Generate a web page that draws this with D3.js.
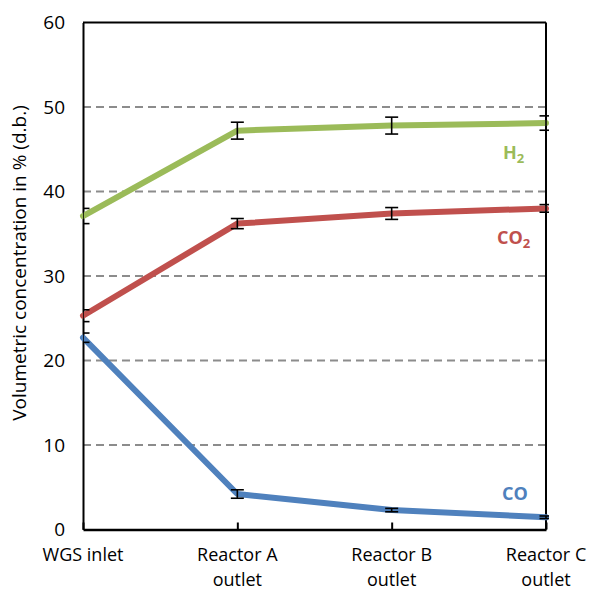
<!DOCTYPE html>
<html>
<head>
<meta charset="utf-8">
<script src="https://cdn.jsdelivr.net/npm/d3@7"></script>
<style>
  html, body { margin: 0; padding: 0; background: #fff; }
  svg { display: block; font-family: "Open Sans", "Liberation Sans", sans-serif; }
</style>
</head>
<body>
<svg id="chart" width="591" height="591"></svg>
<script>
// Sampling points along the water-gas-shift train
const categories = ["WGS inlet", "Reactor A\noutlet", "Reactor B\noutlet", "Reactor C\noutlet"];

// Dry-basis volumetric concentrations (%)
const h2Values  = [37.1, 47.2, 47.8, 48.1];
const co2Values = [25.3, 36.2, 37.4, 38.0];
const coValues  = [22.7, 4.2, 2.3, 1.45];

// Measurement spread (± %)
const h2Err  = [0.9, 1.0, 1.0, 0.85];
const co2Err = [0.7, 0.6, 0.7, 0.45];
const coErr  = [0.55, 0.5, 0.2, 0.15];

const yTicks = [0, 10, 20, 30, 40, 50, 60];

const series = [
  { name: "H", sub: "2", values: h2Values,  err: h2Err,  color: "#9BBB59", label: [503, 152] },
  { name: "CO", sub: "2", values: co2Values, err: co2Err, color: "#C0504D", label: [497, 237] },
  { name: "CO", sub: "",  values: coValues,  err: coErr,  color: "#4F81BD", label: [502, 493] }
];

const svg = d3.select("#chart");
const plot = { left: 83, right: 546, top: 22.5, bottom: 529.5 };

const x = d3.scalePoint().domain(categories).range([plot.left, plot.right]).padding(0);
const y = d3.scaleLinear().domain([0, 60]).range([plot.bottom, plot.top]);

// Dashed horizontal gridlines
svg.append("g")
  .selectAll("line")
  .data(yTicks.filter(t => t > 0 && t < 60))
  .join("line")
  .attr("x1", plot.left).attr("x2", plot.right)
  .attr("y1", d => y(d)).attr("y2", d => y(d))
  .attr("stroke", "#8c8c8c").attr("stroke-width", 2)
  .attr("stroke-dasharray", "8,5");

// Frame: top and right borders
svg.append("line")
  .attr("x1", plot.left).attr("x2", plot.right)
  .attr("y1", plot.top).attr("y2", plot.top)
  .attr("stroke", "#000").attr("stroke-width", 2);
svg.append("line")
  .attr("x1", plot.right).attr("x2", plot.right)
  .attr("y1", plot.top).attr("y2", plot.bottom)
  .attr("stroke", "#000").attr("stroke-width", 2);

// Y axis
const yAxis = svg.append("g")
  .attr("transform", `translate(${plot.left},0)`)
  .call(d3.axisLeft(y).tickValues(yTicks).tickSize(0).tickPadding(18).tickFormat(d3.format("d")));
yAxis.select(".domain").attr("stroke", "#000").attr("stroke-width", 2);
yAxis.selectAll("text")
  .attr("font-size", 19).attr("fill", "#000")
  .attr("font-family", "'Open Sans', sans-serif");

// X axis
const xAxis = svg.append("g")
  .attr("transform", `translate(0,${plot.bottom})`)
  .call(d3.axisBottom(x).tickSizeInner(-7).tickSizeOuter(0).tickFormat(""));
xAxis.select(".domain").attr("stroke", "#000").attr("stroke-width", 2.5);
xAxis.selectAll(".tick line").attr("stroke", "#000").attr("stroke-width", 2);

// Category labels, one text element per line
const labelLines = categories.flatMap(c =>
  c.split("\n").map((line, i) => ({ cat: c, line, i })));
svg.append("g")
  .selectAll("text")
  .data(labelLines)
  .join("text")
  .attr("text-anchor", "middle")
  .attr("font-size", 18)
  .attr("fill", "#000")
  .attr("x", d => x(d.cat))
  .attr("y", d => 561 + d.i * 24.5)
  .text(d => d.line);

// Y axis title
svg.append("text")
  .attr("transform", "translate(26,263) rotate(-90)")
  .attr("text-anchor", "middle")
  .attr("font-size", 19)
  .attr("fill", "#000")
  .text("Volumetric concentration in % (d.b.)");

// Clip for error bars at the plot edges
svg.append("clipPath").attr("id", "plotClip")
  .append("rect")
  .attr("x", plot.left).attr("y", 0)
  .attr("width", plot.right - plot.left + 3).attr("height", 591);

const line = d3.line()
  .x((d, i) => x(categories[i]))
  .y(d => y(d));

series.forEach(s => {
  svg.append("path")
    .datum(s.values)
    .attr("d", line)
    .attr("fill", "none")
    .attr("stroke", s.color)
    .attr("stroke-width", 6)
    .attr("stroke-linejoin", "round")
    .attr("stroke-linecap", "round");
});

// Error bars
const capHalf = 6.5;
const eb = svg.append("g").attr("clip-path", "url(#plotClip)");
series.forEach(s => {
  s.values.forEach((v, i) => {
    const cx = x(categories[i]);
    const y1 = y(v + s.err[i]), y2 = y(v - s.err[i]);
    const g = eb.append("g").attr("stroke", "#000").attr("stroke-width", 1.6);
    g.append("line").attr("x1", cx).attr("x2", cx).attr("y1", y1).attr("y2", y2);
    g.append("line").attr("x1", cx - capHalf).attr("x2", cx + capHalf).attr("y1", y1).attr("y2", y1);
    g.append("line").attr("x1", cx - capHalf).attr("x2", cx + capHalf).attr("y1", y2).attr("y2", y2);
  });
});

// Series labels
series.forEach(s => {
  const t = svg.append("text")
    .attr("x", s.label[0]).attr("y", s.label[1] + 7)
    .attr("font-size", 18).attr("font-weight", "bold")
    .attr("fill", s.color);
  t.append("tspan").text(s.name);
  if (s.sub) {
    t.append("tspan").attr("font-size", 13).attr("dy", 4).text(s.sub);
  }
});
</script>
</body>
</html>
